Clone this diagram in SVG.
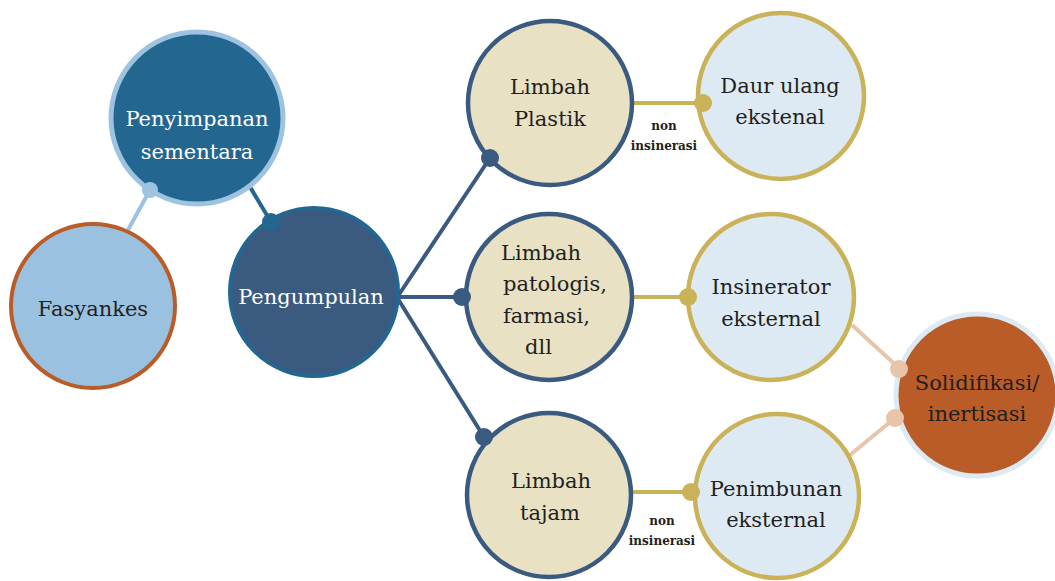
<svg xmlns="http://www.w3.org/2000/svg" width="1055" height="581" viewBox="0 0 1055 581">
  <style>
    text { font-family: "DejaVu Serif", "Liberation Serif", serif; font-size: 21px; fill: #231f20; text-anchor: middle; }
    .light { fill: #ffffff; }
    .small { font-size: 12px; font-weight: bold; }
    .left { text-anchor: start; }
    .node-src { fill: #9ac2e0; stroke: #b95c27; stroke-width: 4; }
    .node-store { fill: #236690; stroke: #9dc3e0; stroke-width: 5; }
    .node-collect { fill: #3a5a80; stroke: #236690; stroke-width: 4; }
    .node-waste { fill: #e8e1c3; stroke: #3a5a80; stroke-width: 4.5; }
    .node-treat { fill: #ddeaf4; stroke: #c9b257; stroke-width: 4.5; }
    .node-final { fill: #b95c27; stroke: #ddeaf4; stroke-width: 5; }
    .ln { fill: none; stroke-width: 4; }
  </style>

  <!-- connectors -->
  <g id="connectors">
    <line class="ln" x1="128" y1="230" x2="150" y2="190" stroke="#9dc3e0"/>
    <line class="ln" x1="247" y1="182" x2="271" y2="222" stroke="#236690"/>
    <line class="ln" x1="398" y1="296" x2="490" y2="158" stroke="#3a5a80"/>
    <line class="ln" x1="398" y1="297" x2="462" y2="297" stroke="#3a5a80"/>
    <line class="ln" x1="398" y1="299" x2="484" y2="437" stroke="#3a5a80"/>
    <line class="ln" x1="633" y1="103" x2="703" y2="103" stroke="#c9b257"/>
    <line class="ln" x1="633" y1="297" x2="688" y2="297" stroke="#c9b257"/>
    <line class="ln" x1="633" y1="492" x2="691" y2="492" stroke="#c9b257"/>
    <line class="ln" x1="852" y1="325" x2="900" y2="369" stroke="#e8c4a8"/>
    <line class="ln" x1="850" y1="455" x2="895" y2="418" stroke="#e8c4a8"/>
  </g>

  <g id="n-fasyankes">
    <circle class="node-src" cx="93" cy="306" r="82"/>
    <text x="93" y="316">Fasyankes</text>
  </g>

  <g id="n-penyimpanan">
    <circle class="node-store" cx="197" cy="118" r="86"/>
    <text class="light" x="197" y="126">Penyimpanan</text>
    <text class="light" x="197" y="159">sementara</text>
  </g>

  <g id="n-pengumpulan">
    <circle class="node-collect" cx="314" cy="292" r="84"/>
    <text class="light" x="311" y="304">Pengumpulan</text>
  </g>

  <g id="n-plastik">
    <circle class="node-waste" cx="550" cy="103" r="82"/>
    <text x="550" y="94">Limbah</text>
    <text x="550" y="126">Plastik</text>
  </g>

  <g id="n-patologis">
    <circle class="node-waste" cx="549" cy="297" r="83"/>
    <text class="left" x="501" y="260">Limbah</text>
    <text class="left" x="503" y="291">patologis,</text>
    <text class="left" x="503" y="323">farmasi,</text>
    <text class="left" x="525" y="354">dll</text>
  </g>

  <g id="n-tajam">
    <circle class="node-waste" cx="549" cy="495" r="82"/>
    <text x="551" y="488">Limbah</text>
    <text x="550" y="520">tajam</text>
  </g>

  <g id="n-daur">
    <circle class="node-treat" cx="781" cy="96" r="83"/>
    <text x="780" y="93">Daur ulang</text>
    <text x="780" y="124">ekstenal</text>
  </g>

  <g id="n-insinerator">
    <circle class="node-treat" cx="771" cy="297" r="83"/>
    <text x="771" y="294">Insinerator</text>
    <text x="771" y="326">eksternal</text>
  </g>

  <g id="n-penimbunan">
    <circle class="node-treat" cx="777" cy="496" r="82"/>
    <text x="776" y="496">Penimbunan</text>
    <text x="776" y="527">eksternal</text>
  </g>

  <g id="n-solidifikasi">
    <circle class="node-final" cx="977" cy="395" r="81"/>
    <text x="977" y="390">Solidifikasi/</text>
    <text x="977" y="421">inertisasi</text>
  </g>

  <!-- connector end dots -->
  <g id="dots">
    <circle cx="150" cy="190" r="8" fill="#9dc3e0"/>
    <circle cx="271" cy="222" r="9" fill="#236690"/>
    <circle cx="490" cy="158" r="9" fill="#3a5a80"/>
    <circle cx="462" cy="297" r="9" fill="#3a5a80"/>
    <circle cx="484" cy="437" r="9" fill="#3a5a80"/>
    <circle cx="703" cy="103" r="9" fill="#c9b257"/>
    <circle cx="688" cy="297" r="9" fill="#c9b257"/>
    <circle cx="691" cy="492" r="9" fill="#c9b257"/>
    <circle cx="899" cy="369" r="9" fill="#e8c4a8"/>
    <circle cx="895" cy="418" r="9" fill="#e8c4a8"/>
  </g>

  <g id="labels">
    <text class="small" x="664" y="130">non</text>
    <text class="small" x="664" y="150">insinerasi</text>
    <text class="small" x="662" y="525">non</text>
    <text class="small" x="662" y="545">insinerasi</text>
  </g>
</svg>
